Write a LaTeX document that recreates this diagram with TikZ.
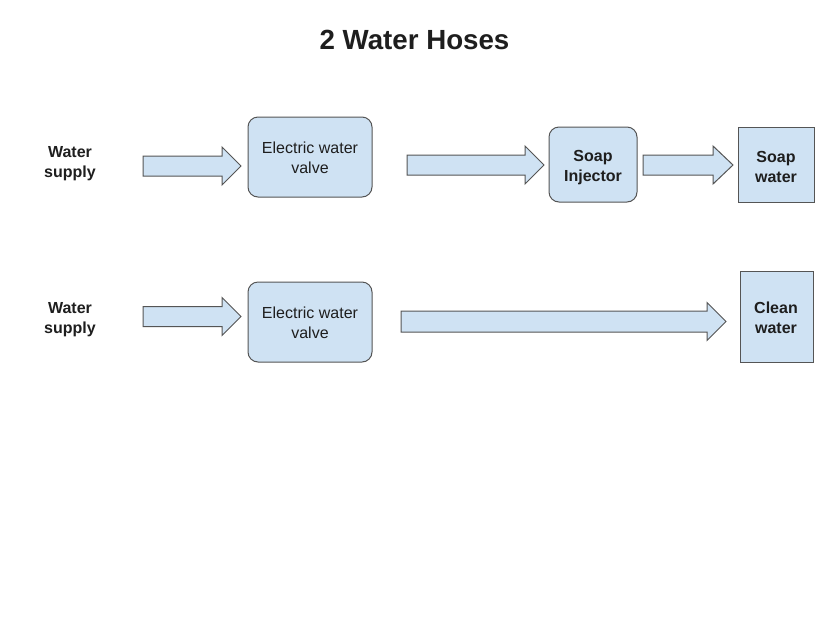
\documentclass[tikz,border=0pt]{standalone}
\usepackage{fontspec}
\setmainfont{Liberation Sans}
\definecolor{boxfill}{RGB}{207,226,243}
\definecolor{boxdraw}{RGB}{85,85,85}
\definecolor{txt}{RGB}{30,30,30}
\newcommand{\blockarrow}[7]{% name, x1, x2, yc, halfbody, halfhead, headlen
  \draw[barrow] (#2,#4-#5) -- (#3-#7,#4-#5) -- (#3-#7,#4-#6) -- (#3,#4)
    -- (#3-#7,#4+#6) -- (#3-#7,#4+#5) -- (#2,#4+#5) -- cycle;
  \coordinate (#1) at ({(#2+#3)/2},#4);}
\begin{document}
\begin{tikzpicture}[x=1pt,y=-1pt,
  barrow/.style={draw=boxdraw,fill=boxfill,line width=1pt,line join=miter},
  rbox/.style={draw=boxdraw,fill=boxfill,line width=1pt,rounded corners=10pt,text=txt,align=center},
  sbox/.style={draw=boxdraw,fill=boxfill,line width=1pt,text=txt,align=center},
  lbl/.style={text=txt,align=center,font=\fontsize{16}{20}\selectfont\bfseries}]
\useasboundingbox (0,0) rectangle (840,630);
\fill[white] (0,0) rectangle (840,630);
\node[text=txt,font=\fontsize{27.7}{32}\selectfont\bfseries] (title) at (414.5,40) {2 Water Hoses};
% row 1
\node[lbl] (ws1) at (70,163.5) {Water\\supply};
\blockarrow{a1}{143}{241}{166}{10}{19}{19}
\draw[rbox] (248,117) rectangle (372,197);
\node[text=txt,align=center,font=\fontsize{16}{19.5}\selectfont] (v1) at (310,158) {Electric water\\valve};
\blockarrow{a2}{407}{544}{165}{10}{19}{19}
\draw[rbox] (549,127) rectangle (637,202);
\node[lbl] (inj) at (593,167.5) {Soap\\Injector};
\blockarrow{a3}{643}{733}{165}{10}{19}{20}
\draw[sbox] (738,127) rectangle (814,202);
\node[lbl] (sw) at (776,167) {Soap\\water};
% row 2
\node[lbl] (ws2) at (70,320) {Water\\supply};
\blockarrow{b1}{143}{241}{316.5}{10}{19}{19}
\draw[rbox] (248,282) rectangle (372,362);
\node[text=txt,align=center,font=\fontsize{16}{19.5}\selectfont] (v2) at (310,323) {Electric water\\valve};
\blockarrow{b2}{401}{726}{321.5}{10.5}{19}{19}
\draw[sbox] (740,271) rectangle (813,362);
\node[lbl] (cw) at (776,318) {Clean\\water};
\end{tikzpicture}
\end{document}
